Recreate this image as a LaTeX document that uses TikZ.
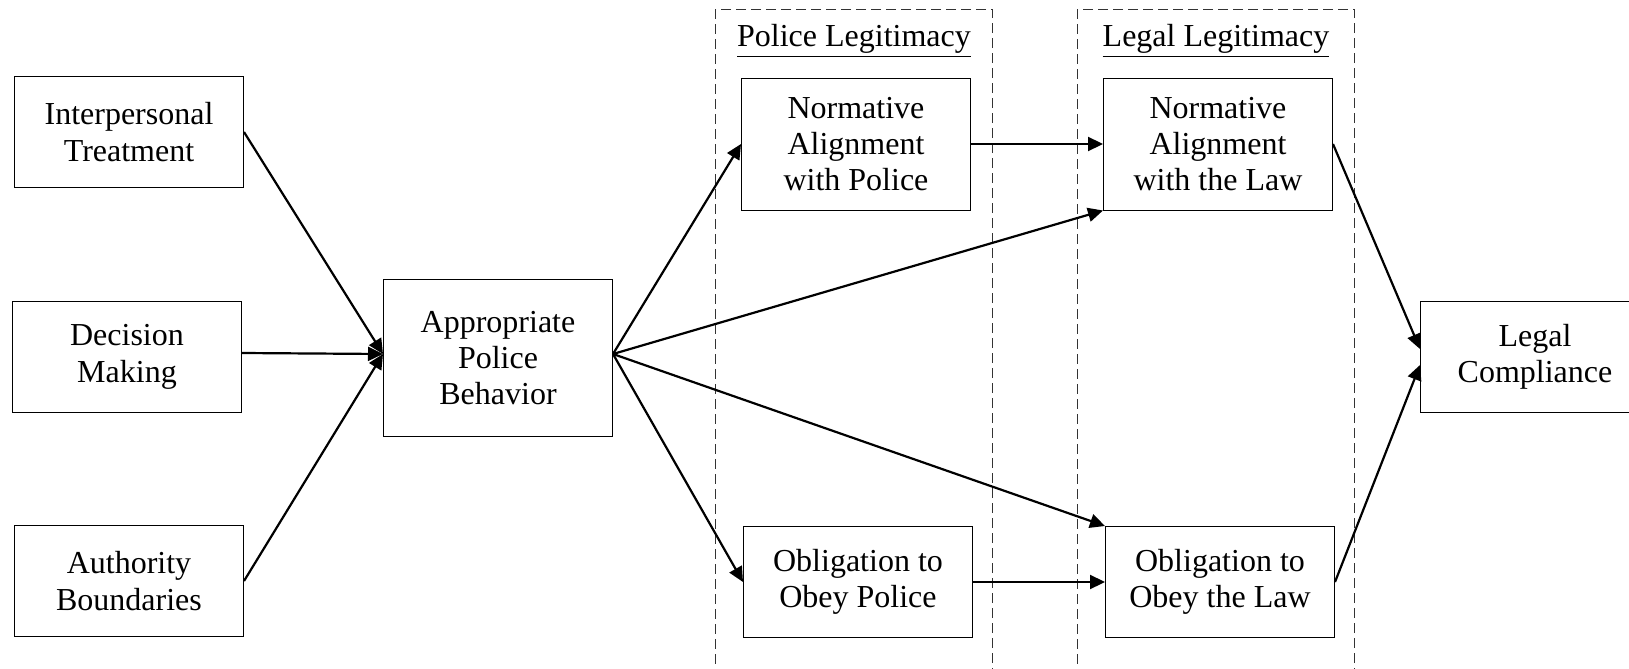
\documentclass[tikz,border=0pt]{standalone}
\usepackage{fontspec}
\setmainfont{Liberation Serif}
\usetikzlibrary{arrows.meta}

\begin{document}
\begin{tikzpicture}[x=0.5pt,y=-0.5pt,
  every node/.style={font=\fontsize{16}{18.2}\selectfont},
  box/.style={draw,line width=0.5pt,align=center,inner sep=0pt,minimum width=114.5pt},
  link/.style={line width=1.1pt,-{Triangle[length=7.5pt,width=7pt]}},
  group/.style={draw=black!80,line width=0.5pt,dash pattern=on 5pt off 2.5pt}]
\useasboundingbox (0,0) rectangle (1629,669);
% the two legitimacy groups
\draw[group] (715,9) rectangle (992,700);
\draw[group] (1077,9) rectangle (1354,700);
\node (polLab) at (854,41) {\underline{Police Legitimacy}};
\node (legLab) at (1216,41) {\underline{Legal Legitimacy}};
% boxes
\node[box,minimum height=55.5pt] (inter) at (129,132) {Interpersonal\\Treatment};
\node[box,minimum height=55.5pt] (decis) at (127,357) {Decision\\Making};
\node[box,minimum height=55.5pt] (auth) at (129,581) {Authority\\Boundaries};
\node[box,minimum height=78.3pt] (appr) at (498,358) {Appropriate\\Police\\Behavior};
\node[box,minimum height=66pt] (normPol) at (856,144) {Normative\\Alignment\\with Police};
\node[box,minimum height=66pt] (normLaw) at (1218,144) {Normative\\Alignment\\with the Law};
\node[box,minimum height=55.5pt] (obPol) at (858,582) {Obligation to\\Obey Police};
\node[box,minimum height=55.5pt] (obLaw) at (1220,582) {Obligation to\\Obey the Law};
\node[box,minimum height=55.5pt] (comp) at (1535,357) {Legal\\Compliance};
% arrows
\draw[link] (inter.east) -- ([yshift=2pt]appr.west);
\draw[link] ([yshift=2pt]decis.east) -- ([yshift=2pt]appr.west);
\draw[link] (auth.east) -- ([yshift=2pt]appr.west);
\draw[link] ([yshift=2pt]appr.east) -- (normPol.west);
\draw[link] ([yshift=2pt]appr.east) -- (normLaw.south west);
\draw[link] ([yshift=2pt]appr.east) -- (obLaw.north west);
\draw[link] ([yshift=2pt]appr.east) -- (obPol.west);
\draw[link] (normPol.east) -- (normLaw.west);
\draw[link] (obPol.east) -- (obLaw.west);
\draw[link] (normLaw.east) -- ([yshift=4pt]comp.west);
\draw[link] (obLaw.east) -- ([yshift=-4pt]comp.west);
\end{tikzpicture}
\end{document}
